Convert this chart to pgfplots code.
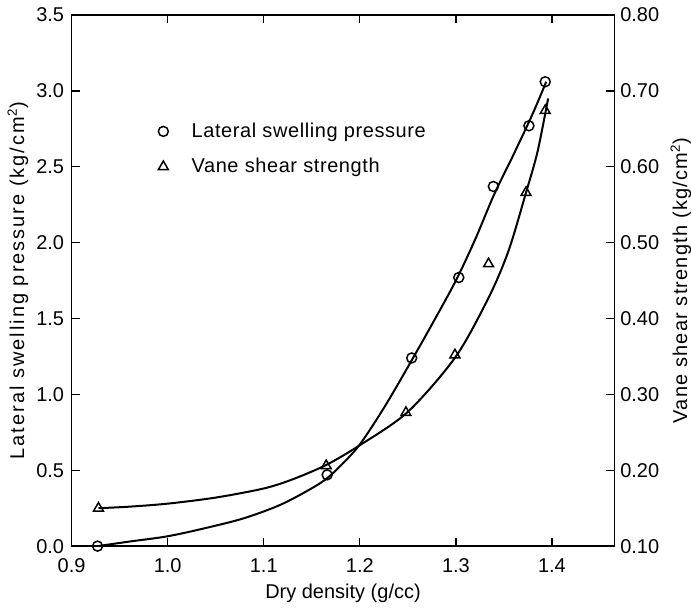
\documentclass[border=0pt]{standalone}
\usepackage{fontspec}
\setmainfont{Liberation Sans}
\usepackage{pgfplots}
\pgfplotsset{compat=1.18}
\begin{document}
\begin{tikzpicture}
\useasboundingbox (-43pt,-41pt) rectangle (372pt,328pt);
\begin{axis}[
  scale only axis, width=326pt, height=319pt,
  xmin=0.9, xmax=1.465, ymin=0, ymax=3.5,
  xtick={0.9,1.0,1.1,1.2,1.3,1.4},
  ytick={0,0.5,1.0,1.5,2.0,2.5,3.0,3.5},
  xtick pos=both, ytick pos=left,
  tick align=inside,
  major tick length=5pt,
  axis line style={line width=0.9pt},
  tick style={line width=0.8pt, black},
  /pgf/number format/assume math mode=true,
  x tick label style={yshift=-4pt, /pgf/number format/.cd, fixed, fixed zerofill, precision=1},
  y tick label style={xshift=-1pt, /pgf/number format/.cd, fixed, fixed zerofill, precision=1},
  tick label style={font=\large},
  xlabel={Dry density (g/cc)},
  ylabel={Lateral swelling pressure (kg/cm\textsuperscript{2})},
  xlabel style={font=\large, yshift=0pt},
  ylabel style={font=\large\addfontfeature{LetterSpace=10}, yshift=-2pt},
  legend style={at={(0.15,0.81)}, anchor=north west, draw=none, fill=none,
    row sep=7pt, font=\large\addfontfeature{LetterSpace=3}},
  legend cell align=left,
]
% lateral swelling pressure curve
\addplot[black, line width=1.2pt, smooth, forget plot] coordinates {
  (0.927,0.0) (0.96,0.03) (1.0,0.065) (1.04,0.12) (1.08,0.185) (1.12,0.28)
  (1.16,0.42) (1.18,0.53) (1.2,0.67) (1.225,0.91) (1.25,1.18) (1.275,1.46)
  (1.3,1.75) (1.32,2.02) (1.34,2.32) (1.36,2.58) (1.38,2.85) (1.394,3.06)
};
\addplot[only marks, mark=o, mark size=3pt, mark options={fill=white, line width=0.9pt}] coordinates {
  (0.927,0.0) (1.166,0.47) (1.254,1.24) (1.303,1.77) (1.339,2.37) (1.376,2.77) (1.393,3.06)
};
\addlegendentry{\hspace{12pt}Lateral swelling pressure}
\addlegendimage{only marks, mark=triangle, mark size=3.4pt, mark options={fill=white, line width=0.9pt}}
\addlegendentry{\hspace{12pt}Vane shear strength}
\end{axis}
\begin{axis}[
  scale only axis, width=326pt, height=319pt,
  xmin=0.9, xmax=1.465, ymin=0.1, ymax=0.8,
  axis x line=none, axis y line*=right,
  ytick={0.1,0.2,0.3,0.4,0.5,0.6,0.7,0.8},
  tick align=inside,
  major tick length=5pt,
  axis line style={line width=0.9pt},
  tick style={line width=0.8pt, black},
  /pgf/number format/assume math mode=true,
  y tick label style={/pgf/number format/.cd, fixed, fixed zerofill, precision=2},
  tick label style={font=\large},
  ylabel={Vane shear strength (kg/cm\textsuperscript{2})},
  ylabel style={font=\large\addfontfeature{LetterSpace=6}},
]
% vane shear strength curve
\addplot[black, line width=1.2pt, smooth] coordinates {
  (0.928,0.150) (0.96,0.152) (1.0,0.156) (1.05,0.164) (1.1,0.176) (1.13,0.188)
  (1.165,0.207) (1.2,0.233) (1.25,0.277) (1.3,0.350) (1.335,0.43) (1.355,0.49)
  (1.373,0.566) (1.385,0.62) (1.396,0.69)
};
\addplot[only marks, mark=triangle, mark size=3.4pt, mark options={fill=white, line width=0.9pt}] coordinates {
  (0.928,0.150) (1.165,0.206) (1.248,0.276) (1.299,0.352) (1.334,0.472) (1.373,0.566) (1.393,0.674)
};
\end{axis}
\end{tikzpicture}
\end{document}
